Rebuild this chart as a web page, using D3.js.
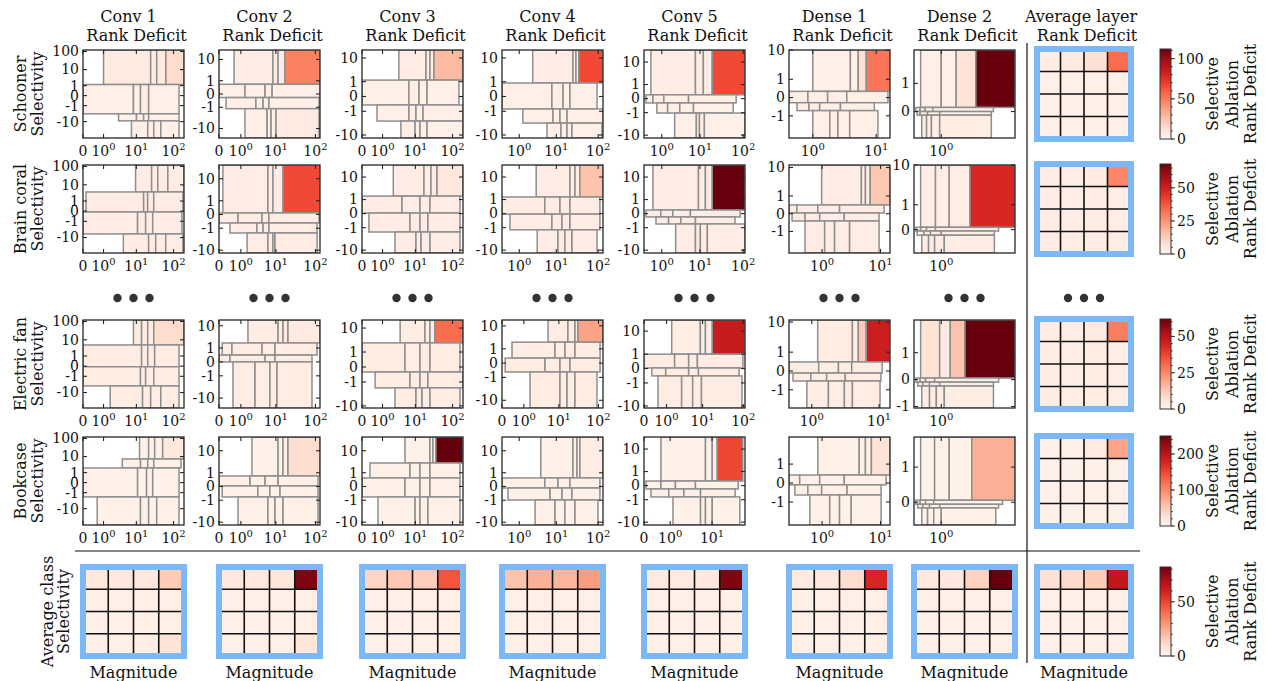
<!DOCTYPE html>
<html><head><meta charset="utf-8">
<script src="https://cdn.jsdelivr.net/npm/d3@7"></script>
<style>
body{margin:0;background:#fff}
svg{display:block}
text{font-family:"DejaVu Serif",serif;fill:#111}
</style>
</head><body>
<svg id="c" width="1265" height="681"></svg>
<script>
// ---------------- DATA ----------------
const layerNames = ["Conv 1","Conv 2","Conv 3","Conv 4","Conv 5","Dense 1","Dense 2"];
const classNames = ["Schooner","Brain coral","Electric fan","Bookcase"];
const rowColorMax = [112, 68, 62, 250];
const bottomColorMax = 82;
const rowCbarTicks = [[0,50,100],[0,25,50],[0,25,50],[0,100,200]];
const rowCbarMinor = [10,5,5,20];
const bottomCbarTicks = [0,50];
const bottomCbarMinor = 10;
const xTickCandidates = [0,1,10,100];
const yTickCandidates = [-10,-1,0,1,10,100];

// Schooner row: magnitude domain, selectivity domain, selectivity band edges, magnitude cell edges per band, rank deficit
const schoonerXDomain = [[0,190],[0,130],[0,190],[0.15,130],[0.15,110],[0.26,15.7],[0.45,5]];
const schoonerYDomain = [[-80,120],[-25,25],[-13,20],[-13,20],[-13,30],[-6,10],[-0.9,5.8]];
const schoonerYEdges = [[1.2,-3.5,-9],[0.6,-0.16,-1.2],[1.2,-0.42,-2.8],[0.85,-0.75,-3.4],[0.16,-0.19,-1.05],[0.21,-0.17,-0.58],[0.08,0.0,-0.07]];
const schoonerXEdges = [
 [[1.0,24.5,35.6,62.6,190],[0,8.3,13,21.6,140],[3.1,10.1,15.8,21.6,140],[7.3,20.4,29.7,45.8,140]],
 [[0.55,8.4,11.4,17.1,130],[0,1.37,5.2,8.0,130],[0.2,2.9,4.6,6.6,123],[1.37,5.9,7.5,10.1,123]],
 [[3.4,19.5,25,32,190],[0,6.6,12.6,20.8,148],[0.6,6.6,10.4,16.2,190],[3.9,9.8,13.4,20.8,190]],
 [[2.5,25.3,29.8,35,130],[0.15,7.8,14.6,21.4,94],[1.3,8.3,12.3,18.2,130],[5.9,13,18.2,23.9,123]],
 [[0.39,7.8,12,19.4,110],[0.21,0.48,1.16,5.3,69],[0.68,1.5,3.2,7,59],[2.35,8.2,9.7,12.7,110]],
 [[1.0,4.2,5.5,7.2,15.7],[0.26,0.8,1.84,3.7,14.7],[0.45,0.84,1.34,2.96,9.4],[1.0,2.0,2.7,4.1,10.6]],
 [[0.56,1.0,1.44,2.24,5],[0.48,0.55,0.64,0.8,3.24],[0.5,0.55,0.69,0.96,3.1],[0.58,0.67,0.77,0.96,3.1]]
];
const schoonerValues = [
 [[7,7,8,14],[4,4,4,4],[4,4,4,4],[4,4,4,4]],
 [[5,5,5,48],[4,4,4,4],[4,4,4,4],[4,4,4,7]],
 [[5,5,6,28],[4,4,4,4],[4,4,4,4],[4,4,4,4]],
 [[5,5,5,66],[4,4,4,4],[4,4,4,4],[4,4,4,4]],
 [[5,5,5,66],[4,4,4,4],[4,4,4,4],[4,4,4,4]],
 [[4,4,13,52],[4,4,4,4],[4,4,4,4],[4,4,4,4]],
 [[4,4,11,112],[4,4,4,4],[4,4,4,4],[4,4,4,6]]
];

const brainXDomain = [[0,190],[0,130],[0,190],[0.15,130],[0.15,110],[0.05,14],[0.45,5]];
const brainYDomain = [[-70,120],[-13,36],[-13,30],[-13,30],[-13,30],[-6,12],[-0.9,10]];
const brainYEdges = [[3.9,-0.04,-6.3],[0.06,-0.47,-1.76],[1.5,0.02,-1.66],[1.36,-0.02,-1.3],[0.15,-0.14,-0.61],[0.34,0.02,-0.27],[0.05,-0.03,-0.13]];
const brainXEdges = [
 [[9.5,26,38,70.6,190],[0.08,15.8,20.3,29.6,178],[0,10.8,17.9,27.8,168],[4.3,21.6,33.5,62,178]],
 [[0.1,6.2,8.4,15.3,130],[0,0.79,4.3,6.6,123],[0.35,3.1,4.6,6.6,110],[1.6,6.2,8.4,9.5,110]],
 [[2.3,17.2,26.6,38.6,190],[0,4.2,13.4,25,158],[0.21,7.1,13.4,22,158],[2.6,10.4,14.3,25,158]],
 [[3.1,21.4,28.2,37,130],[0.15,5.2,12.3,21.4,110],[0.45,7.8,13.8,21.4,110],[3.3,11,16.2,23.9,94]],
 [[0.48,9.2,13.4,19.4,110],[0.21,0.93,2.1,5.9,85],[0.63,1.6,3.4,7.8,65],[2.5,7.8,10.2,14.9,110]],
 [[0.98,5.0,5.8,6.9,14],[0.05,0.19,0.81,2.15,11.4],[0.1,0.38,0.89,2.6,9.5],[0.38,1.13,1.75,3.2,9.5]],
 [[0.56,0.86,1.22,1.97,5],[0.48,0.56,0.67,0.86,3.6],[0.5,0.62,0.75,1.0,3.3],[0.58,0.71,0.84,1.08,3.3]]
];
const brainValues = [
 [[3,3,3,3],[3,3,3,3],[3,3,3,3],[3,3,3,3]],
 [[3,3,3,40],[3,3,3,3],[3,3,3,3],[3,3,3,3]],
 [[3,3,3,5],[3,3,3,3],[3,3,3,3],[3,3,3,3]],
 [[3,3,4,15],[3,3,3,3],[3,3,3,3],[3,3,3,3]],
 [[3,3,3,68],[3,3,3,3],[3,3,3,3],[3,3,3,3]],
 [[3,3,3,14],[3,3,3,3],[3,3,3,3],[3,3,3,3]],
 [[3,3,3,48],[3,3,3,3],[3,3,3,3],[3,3,3,3]]
];

const fanXDomain = [[0,190],[0,130],[0,190],[0,130],[0,110],[0.31,14],[0.45,5]];
const fanYDomain = [[-70,120],[-25,17],[-12,20],[-20,17],[-12,27],[-4.3,11.5],[-1.1,6]];
const fanYEdges = [[5.1,-0.03,-4.2],[1.8,0.34,0],[2.6,-0.21,-1.9],[2.1,0.22,-0.47],[1.0,0.02,-0.36],[0.33,-0.06,-0.38],[0.03,-0.05,-0.14]];
const fanXEdges = [
 [[8.3,13.9,20.4,29.7,190],[0,13.9,20.4,31.4,140],[0,13,17.9,29.7,140],[1.7,14.8,24.5,45.8,140]],
 [[1.7,11.4,15.3,20.4,130],[0.08,0.44,4.3,9.5,110],[0,0.35,5.2,9.5,82],[0.49,2.75,7.0,10.7,82]],
 [[3.7,18.3,25,34,190],[0,5.1,13.4,25,158],[0.49,7.1,13.4,22,190],[2.6,10.4,15.2,25,158]],
 [[5.2,17.1,25.8,30.8,130],[0.31,7.9,14.4,25.8,110],[0.08,4.3,10.7,19.3,110],[1.6,10.7,16.2,25.8,92]],
 [[1.47,8.8,11.8,17.5,110],[0,1.8,4.4,7.4,98],[0.22,0.94,4.4,7.9,79],[0.47,2.85,5.6,9.4,93]],
 [[1.27,4.3,5.2,6.7,14],[0.31,1.32,2.7,4.2,11],[0.4,0.96,1.78,3.4,10.6],[0.81,1.9,3.3,4.3,10.3]],
 [[0.56,0.96,1.25,1.76,5],[0.48,0.55,0.65,0.84,3.6],[0.51,0.6,0.73,0.96,3.24],[0.58,0.73,0.88,1.08,3.24]]
];
const fanValues = [
 [[3,3,3,8],[3,3,3,3],[3,3,3,3],[3,3,3,3]],
 [[3,3,3,4],[3,3,3,3],[3,3,3,3],[3,3,3,3]],
 [[3,3,3,30],[3,3,3,3],[3,3,3,3],[3,3,3,3]],
 [[3,3,5,20],[3,3,3,3],[3,3,3,3],[3,3,3,3]],
 [[3,3,3,47],[3,3,3,3],[3,3,3,3],[3,3,3,3]],
 [[3,3,12,46],[3,3,3,3],[3,3,3,3],[3,3,3,3]],
 [[6,4,14,62],[3,3,3,3],[3,3,3,3],[3,3,3,3]]
];

const bookXDomain = [[0,190],[0,130],[0,190],[0.15,130],[0,50],[0.05,14],[0.45,5]];
const bookYDomain = [[-80,120],[-13,36],[-13,36],[-13,36],[-13,30],[-6,8],[-0.5,3.7]];
const bookYEdges = [[7.3,2.1,-2.0],[0.64,0.02,-0.64],[3.0,0.47,-0.64],[0.47,-0.06,-0.97],[0.2,-0.14,-0.7],[0.28,-0.05,-0.48],[0.03,-0.03,-0.09]];
const bookXEdges = [
 [[12.2,21.6,31.4,51.4,190],[4.0,13,20.4,29.7,158],[0,10.8,19,27.8,140],[0.55,13,21.6,35.6,140]],
 [[2.25,11.4,15.3,20.4,130],[0,1.97,5.2,11.4,116],[0.08,3.3,7.0,12.8,116],[0.79,6.2,9.5,15.3,116]],
 [[5.1,25,30,36,190],[0.25,7.1,13.4,25,158],[0,5.1,13.4,25,158],[0.66,9.8,13.4,22,158]],
 [[4.1,25.3,31.5,37,130],[0.15,5.2,11,21.4,110],[0.36,7.0,13.8,23.9,110],[2.9,9.3,16.2,28.2,99]],
 [[0.5,7.2,10.1,12.9,45],[0.04,0.5,1.4,4.3,36],[0.16,0.91,2.3,5.6,31],[1.2,5.6,7.2,10.1,39]],
 [[0.81,4.6,5.8,7.2,14],[0.05,0.25,0.89,2.6,12.2],[0.15,0.46,0.98,2.9,10.2],[0.52,1.42,2.15,3.4,10.2]],
 [[0.56,0.84,1.22,2.05,5],[0.48,0.55,0.65,0.82,3.9],[0.51,0.6,0.73,0.96,3.6],[0.58,0.69,0.82,1.0,3.4]]
];
const bookValues = [
 [[8,8,8,20],[8,8,8,8],[8,8,8,8],[8,8,8,8]],
 [[8,8,8,30],[8,8,8,8],[8,8,8,8],[8,8,8,8]],
 [[8,8,8,250],[8,8,8,8],[8,8,8,8],[8,8,8,8]],
 [[8,8,8,12],[8,8,8,8],[8,8,8,8],[8,8,8,8]],
 [[8,8,8,150],[8,8,8,8],[8,8,8,8],[8,8,8,8]],
 [[8,8,8,25],[8,8,8,8],[8,8,8,8],[8,8,8,8]],
 [[8,8,8,70],[8,8,8,8],[8,8,8,8],[8,8,8,8]]
];

// Average over layers (right column), one 4x4 grid per class
const layerAvgValues = [
 [[6,7,12,55],[4,4,4,4],[4,4,4,4],[4,4,4,4]],
 [[3,3,4,28],[3,3,3,3],[3,3,3,3],[3,3,3,3]],
 [[3,3,4,27],[3,3,3,3],[3,3,3,3],[3,3,3,3]],
 [[8,8,16,80],[6,6,6,6],[6,6,6,6],[6,6,6,6]]
];
// Average over classes (bottom row), one 4x4 grid per layer + overall
const classAvgValues = [
 [[6,6,6,16],[3,3,3,3],[3,3,3,3],[3,3,4,8]],
 [[6,6,7,78],[3,3,3,3],[3,3,3,3],[3,3,3,7]],
 [[13,17,15,46],[3,3,3,3],[3,3,3,3],[3,3,3,3]],
 [[18,23,22,28],[3,3,3,3],[3,3,3,3],[3,3,3,3]],
 [[5,5,6,78],[3,3,3,3],[3,3,3,3],[3,3,3,3]],
 [[5,6,10,58],[3,3,3,3],[3,3,3,3],[3,3,3,3]],
 [[6,6,14,82],[3,3,3,3],[3,3,3,3],[3,3,3,3]],
 [[9,11,16,64],[3,3,3,3],[3,3,3,3],[3,3,3,3]]
];

// ---------------- LAYOUT ----------------
const colL = [83,219,362,502,644,789,914], colW = 101;
const avgL = 1037, avgW = 94;
const rowT = [50,165,320,437], rowH = 88;
const botT = 567, botH = 89;
const symC = 0.4;
const cbX = 1160, cbW = 11;
const frameBlue = "#7ab8f7";

const rowXDomains = [schoonerXDomain, brainXDomain, fanXDomain, bookXDomain];
const rowYDomains = [schoonerYDomain, brainYDomain, fanYDomain, bookYDomain];
const rowYEdges = [schoonerYEdges, brainYEdges, fanYEdges, bookYEdges];
const rowXEdges = [schoonerXEdges, brainXEdges, fanXEdges, bookXEdges];
const rowValues = [schoonerValues, brainValues, fanValues, bookValues];

const svg = d3.select("#c");
const defs = svg.append("defs");
const grad = defs.append("linearGradient").attr("id","reds")
  .attr("x1",0).attr("y1",1).attr("x2",0).attr("y2",0);
d3.range(0,1.0001,0.05).forEach(t=>grad.append("stop").attr("offset",t).attr("stop-color",d3.interpolateReds(t)));

function xLabel(g, v, px, py){
  const t = g.append("text").attr("x",px).attr("y",py).attr("text-anchor","middle").attr("font-size",14);
  if (v === 0) { t.text("0"); return; }
  t.append("tspan").text("10");
  t.append("tspan").attr("dy",-6).attr("font-size",10).text(String(Math.round(Math.log10(v))));
}

function mosaic(id, L, T, W, H, xd, yd, yE, xE, vals, color){
  const g = svg.append("g");
  const x = d3.scaleSymlog().constant(symC).domain(xd).range([L, L+W]);
  const y = d3.scaleSymlog().constant(symC).domain(yd).range([T+H, T]);
  defs.append("clipPath").attr("id","cp"+id).append("rect")
    .attr("x",L).attr("y",T).attr("width",W).attr("height",H);
  const cg = g.append("g").attr("clip-path",`url(#cp${id})`);
  const tops = [yd[1]].concat(yE), bots = yE.concat([yd[0]]);
  const cells = [];
  for (let b=0;b<4;b++) for (let j=0;j<4;j++)
    cells.push({x0:xE[b][j], x1:xE[b][j+1], y0:bots[b], y1:tops[b], v:vals[b][j]});
  cg.selectAll("rect").data(cells).join("rect")
    .attr("x",d=>x(d.x0)).attr("y",d=>y(d.y1))
    .attr("width",d=>Math.max(0,x(d.x1)-x(d.x0)))
    .attr("height",d=>Math.max(0,y(d.y0)-y(d.y1)))
    .attr("fill",d=>color(d.v)).attr("stroke","#8e8e8e").attr("stroke-width",1.5);
  g.append("rect").attr("x",L).attr("y",T).attr("width",W).attr("height",H)
    .attr("fill","none").attr("stroke","#262626").attr("stroke-width",1.3);
  const eps = 1e-9;
  const xt = xTickCandidates.filter(v=>v>=xd[0]-eps && v<=xd[1]+eps);
  const yt = yTickCandidates.filter(v=>v>=yd[0]-eps && v<=yd[1]+eps);
  const tk = {stroke:"#262626","stroke-width":1.1};
  xt.forEach(v=>{
    const px = x(v);
    g.append("line").attr("x1",px).attr("x2",px).attr("y1",T+H).attr("y2",T+H-4).attr("stroke",tk.stroke).attr("stroke-width",tk["stroke-width"]);
    g.append("line").attr("x1",px).attr("x2",px).attr("y1",T).attr("y2",T+4).attr("stroke",tk.stroke).attr("stroke-width",tk["stroke-width"]);
    xLabel(g, v, px, T+H+18);
  });
  yt.forEach(v=>{
    const py = y(v);
    g.append("line").attr("x1",L).attr("x2",L+4).attr("y1",py).attr("y2",py).attr("stroke",tk.stroke).attr("stroke-width",tk["stroke-width"]);
    g.append("line").attr("x1",L+W).attr("x2",L+W-4).attr("y1",py).attr("y2",py).attr("stroke",tk.stroke).attr("stroke-width",tk["stroke-width"]);
    g.append("text").attr("x",L-4).attr("y",py).attr("dy","0.35em").attr("text-anchor","end")
      .attr("font-size",14).text(String(v));
  });
}

function heat(L, T, W, H, vals, color){
  const g = svg.append("g");
  const xb = d3.scaleBand().domain(d3.range(4)).range([L, L+W]);
  const yb = d3.scaleBand().domain(d3.range(4)).range([T, T+H]);
  const cells = [];
  vals.forEach((row,r)=>row.forEach((v,c)=>cells.push({r,c,v})));
  g.selectAll("rect.cell").data(cells).join("rect").attr("class","cell")
    .attr("x",d=>xb(d.c)).attr("y",d=>yb(d.r))
    .attr("width",xb.bandwidth()).attr("height",yb.bandwidth())
    .attr("fill",d=>color(d.v));
  d3.range(1,4).forEach(i=>{
    g.append("line").attr("x1",xb(i)).attr("x2",xb(i)).attr("y1",T).attr("y2",T+H).attr("stroke","#111").attr("stroke-width",1.6);
    g.append("line").attr("x1",L).attr("x2",L+W).attr("y1",yb(i)).attr("y2",yb(i)).attr("stroke","#111").attr("stroke-width",1.6);
  });
  g.append("rect").attr("x",L).attr("y",T).attr("width",W).attr("height",H)
    .attr("fill","none").attr("stroke",frameBlue).attr("stroke-width",6);
}

function cbar(T, H, vmax, ticks, minor){
  const g = svg.append("g");
  const s = d3.scaleLinear().domain([0,vmax]).range([T+H, T]);
  g.append("rect").attr("x",cbX).attr("y",T).attr("width",cbW).attr("height",H).attr("fill","url(#reds)");
  g.append("rect").attr("x",cbX).attr("y",T).attr("width",cbW).attr("height",H)
    .attr("fill","none").attr("stroke","#333").attr("stroke-width",1);
  d3.range(0, vmax+1e-9, minor).forEach(v=>{
    g.append("line").attr("x1",cbX+cbW).attr("x2",cbX+cbW+2).attr("y1",s(v)).attr("y2",s(v)).attr("stroke","#333").attr("stroke-width",0.8);
  });
  ticks.forEach(v=>{
    g.append("line").attr("x1",cbX+cbW).attr("x2",cbX+cbW+4).attr("y1",s(v)).attr("y2",s(v)).attr("stroke","#333").attr("stroke-width",1);
    g.append("text").attr("x",cbX+cbW+6).attr("y",s(v)).attr("dy","0.35em").attr("font-size",14).text(v);
  });
  const cy = T + H/2;
  [["Selective",1212],["Ablation",1232],["Rank Deficit",1250]].forEach(([t,xx])=>{
    g.append("text").attr("transform",`translate(${xx},${cy}) rotate(-90)`)
      .attr("text-anchor","middle").attr("dominant-baseline","central").attr("font-size",16).text(t);
  });
}

function vlabel(lines, xs, cy){
  lines.forEach((t,i)=>{
    svg.append("text").attr("transform",`translate(${xs[i]},${cy}) rotate(-90)`)
      .attr("text-anchor","middle").attr("dominant-baseline","central").attr("font-size",16).text(t);
  });
}

// ---------------- DRAW ----------------
// column titles
layerNames.forEach((n,i)=>{
  const cx = colL[i] + colW/2;
  svg.append("text").attr("x",cx-5).attr("y",22).attr("text-anchor","middle").attr("font-size",16).text(n);
  svg.append("text").attr("x",cx+3).attr("y",41).attr("text-anchor","middle").attr("font-size",16).text("Rank Deficit");
});
svg.append("text").attr("x",avgL+avgW/2-3).attr("y",22).attr("text-anchor","middle").attr("font-size",16).text("Average layer");
svg.append("text").attr("x",avgL+avgW/2+3).attr("y",41).attr("text-anchor","middle").attr("font-size",16).text("Rank Deficit");

// class rows
classNames.forEach((cn, r)=>{
  const color = d3.scaleSequential(d3.interpolateReds).domain([0, rowColorMax[r]]);
  layerNames.forEach((ln, c)=>{
    mosaic(`r${r}c${c}`, colL[c], rowT[r], colW, rowH,
      rowXDomains[r][c], rowYDomains[r][c], rowYEdges[r][c], rowXEdges[r][c], rowValues[r][c], color);
  });
  heat(avgL, rowT[r]-1, avgW, rowH+2, layerAvgValues[r], color);
  cbar(rowT[r]-1, rowH+2, rowColorMax[r], rowCbarTicks[r], rowCbarMinor[r]);
  vlabel([cn, "Selectivity"], [20, 37], rowT[r] + rowH/2);
});

// bottom row
const bColor = d3.scaleSequential(d3.interpolateReds).domain([0, bottomColorMax]);
const bottomL = colL.concat([avgL]);
const bottomW = d3.range(7).map(()=>colW).concat([avgW]);
classAvgValues.forEach((v,i)=>{
  heat(bottomL[i], botT, bottomW[i], botH, v, bColor);
  svg.append("text").attr("x",bottomL[i]+bottomW[i]/2).attr("y",678).attr("text-anchor","middle")
    .attr("font-size",16).text("Magnitude");
});
cbar(botT, botH, bottomColorMax, bottomCbarTicks, bottomCbarMinor);
vlabel(["Average class","Selectivity"], [47, 63], botT + botH/2);

// ellipsis dots
bottomL.forEach((L,i)=>{
  const cx = L + bottomW[i]/2;
  [-16,0,16].forEach(dx=>svg.append("circle").attr("cx",cx+dx).attr("cy",298).attr("r",4.2).attr("fill","#333"));
});

// dividers
svg.append("line").attr("x1",1027).attr("x2",1027).attr("y1",43).attr("y2",663).attr("stroke","#111").attr("stroke-width",1.2);
svg.append("line").attr("x1",75).attr("x2",1140).attr("y1",551).attr("y2",551).attr("stroke","#111").attr("stroke-width",1.2);
</script>
</body></html>
